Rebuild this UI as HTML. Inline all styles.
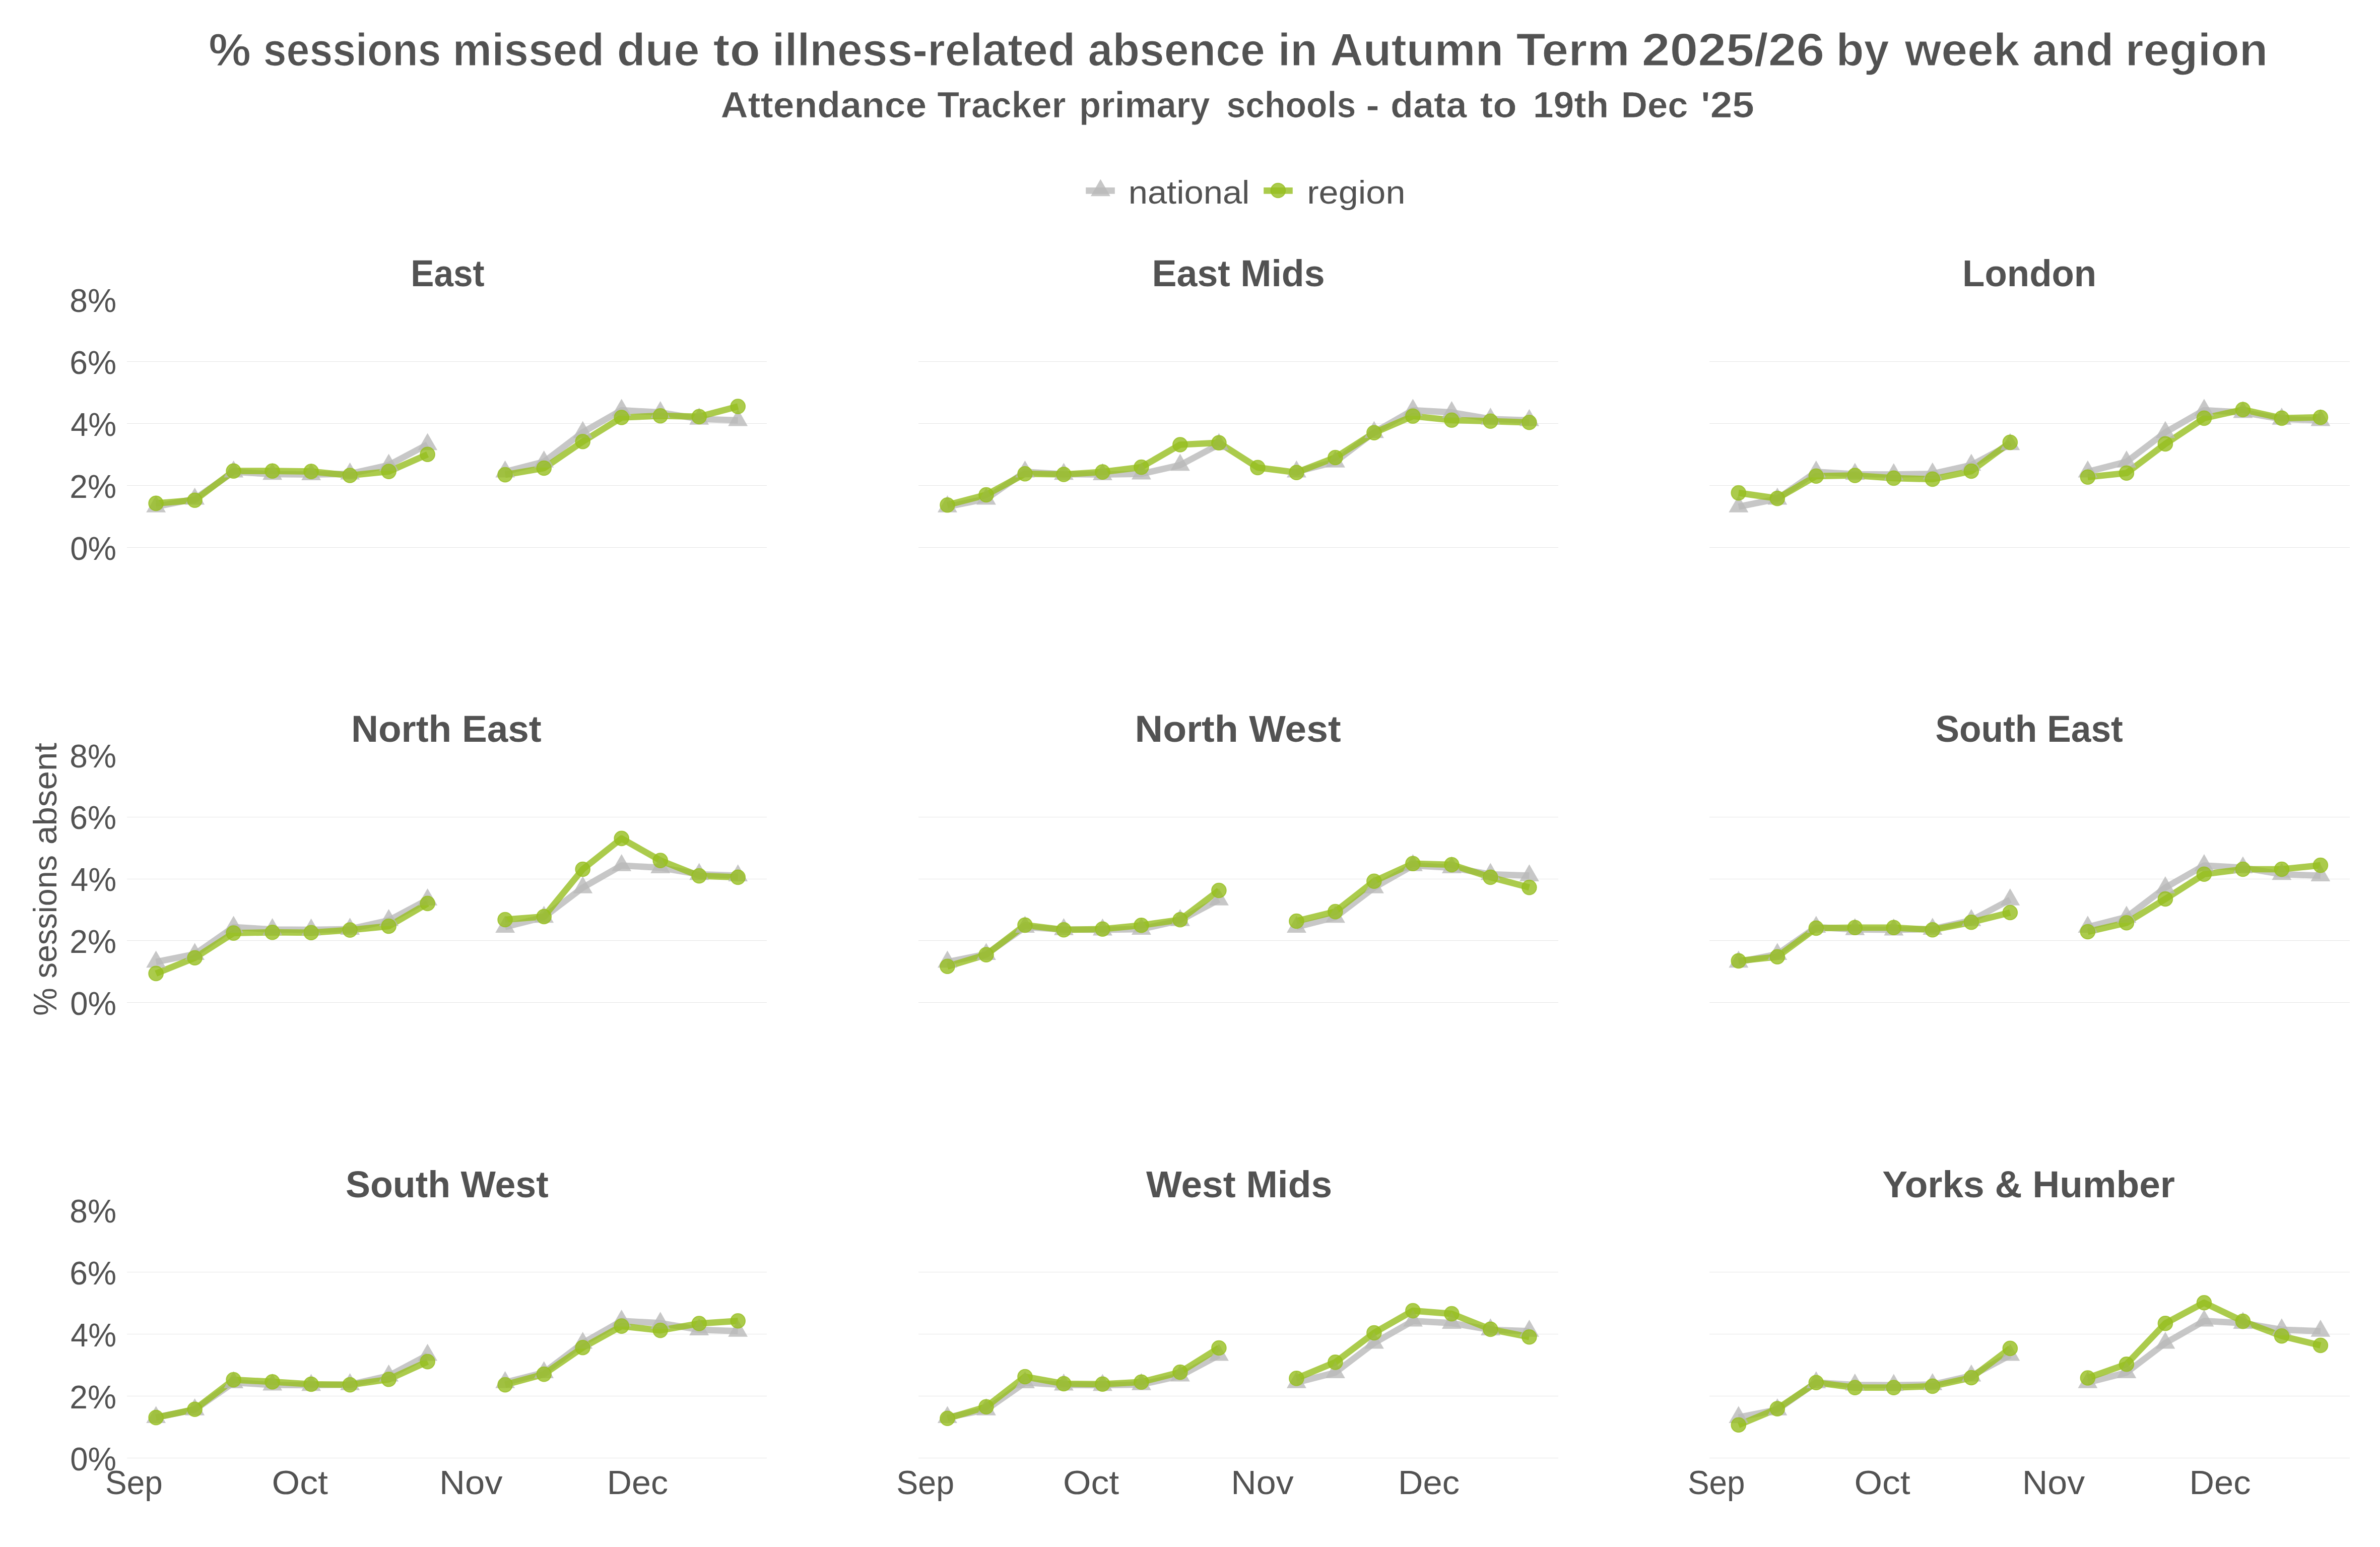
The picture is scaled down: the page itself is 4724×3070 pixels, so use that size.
<!DOCTYPE html>
<html lang="en"><head><meta charset="utf-8"><title>% sessions missed due to illness-related absence</title>
<style>html,body{margin:0;padding:0;background:#fff}svg{display:block}text{font-family:"Liberation Sans",sans-serif;fill:#525252}.b{font-weight:bold}.e{stroke:#fff;stroke-width:1.2px;stroke-linejoin:miter}.e2{stroke:#fff;stroke-width:.7px;stroke-linejoin:miter}</style>
</head><body>
<svg width="4724" height="3070" viewBox="0 0 4724 3070">
<rect width="4724" height="3070" fill="#fff"/>
<text y="129.8" font-size="90" class="b e">
<tspan x="414.2" textLength="83.8" lengthAdjust="spacingAndGlyphs">%</tspan> <tspan x="522.8" textLength="352.6" lengthAdjust="spacingAndGlyphs">sessions</tspan> <tspan x="898.6" textLength="300.6" lengthAdjust="spacingAndGlyphs">missed</tspan> <tspan x="1224.4" textLength="164.2" lengthAdjust="spacingAndGlyphs">due</tspan> <tspan x="1415.4" textLength="93.6" lengthAdjust="spacingAndGlyphs">to</tspan> <tspan x="1532.8" textLength="601.6" lengthAdjust="spacingAndGlyphs">illness-related</tspan> <tspan x="2159.6" textLength="351.2" lengthAdjust="spacingAndGlyphs">absence</tspan> <tspan x="2536.8" textLength="78.0" lengthAdjust="spacingAndGlyphs">in</tspan> <tspan x="2640.0" textLength="344.2" lengthAdjust="spacingAndGlyphs">Autumn</tspan> <tspan x="3009.4" textLength="225.2" lengthAdjust="spacingAndGlyphs">Term</tspan> <tspan x="3258.8" textLength="362.4" lengthAdjust="spacingAndGlyphs">2025/26</tspan> <tspan x="3644.4" textLength="105.2" lengthAdjust="spacingAndGlyphs">by</tspan> <tspan x="3780.8" textLength="227.6" lengthAdjust="spacingAndGlyphs">week</tspan> <tspan x="4034.2" textLength="161.2" lengthAdjust="spacingAndGlyphs">and</tspan> <tspan x="4218.6" textLength="282.8" lengthAdjust="spacingAndGlyphs">region</tspan>
</text>
<text y="232.6" font-size="72" class="b e2">
<tspan x="1430.4" textLength="408.9" lengthAdjust="spacingAndGlyphs">Attendance</tspan> <tspan x="1860.2" textLength="255.3" lengthAdjust="spacingAndGlyphs">Tracker</tspan> <tspan x="2142.1" textLength="259.6" lengthAdjust="spacingAndGlyphs">primary</tspan> <tspan x="2434.4" textLength="256.8" lengthAdjust="spacingAndGlyphs">schools</tspan> <tspan x="2711.3" textLength="26.6" lengthAdjust="spacingAndGlyphs">-</tspan> <tspan x="2760.0" textLength="151.4" lengthAdjust="spacingAndGlyphs">data</tspan> <tspan x="2937.5" textLength="73.3" lengthAdjust="spacingAndGlyphs">to</tspan> <tspan x="3042.7" textLength="150.6" lengthAdjust="spacingAndGlyphs">19th</tspan> <tspan x="3217.7" textLength="133.0" lengthAdjust="spacingAndGlyphs">Dec</tspan> <tspan x="3376.1" textLength="105.9" lengthAdjust="spacingAndGlyphs">'25</tspan>
</text>
<g opacity="1">
<line x1="2155.2" x2="2212.8" y1="378.4" y2="378.4" stroke="#b9b9b9" stroke-opacity="0.8" stroke-width="12.7"/>
<polygon points="2184.4,355.6 2203.8,389.2 2165.0,389.2" fill="#b9b9b9" fill-opacity="0.8"/>
<line x1="2508.2" x2="2565.8" y1="378.4" y2="378.4" stroke="#96be1f" stroke-opacity="0.8" stroke-width="12.7"/>
<circle cx="2536.9" cy="378.0" r="14.4" fill="#96be1f" fill-opacity="0.8" stroke="#96be1f" stroke-opacity="0.8" stroke-width="1.8"/>
</g>
<text x="2239.7" y="403.5" font-size="64" textLength="240.7" lengthAdjust="spacingAndGlyphs">national</text>
<text x="2594.2" y="403.5" font-size="64" textLength="195.3" lengthAdjust="spacingAndGlyphs">region</text>
<text transform="matrix(0,-1,1,0,111.5,0)" y="0" font-size="64">
<tspan x="-2015.8" textLength="55.4" lengthAdjust="spacingAndGlyphs">%</tspan> <tspan x="-1941.5" textLength="244.5" lengthAdjust="spacingAndGlyphs">sessions</tspan> <tspan x="-1676.0" textLength="202.0" lengthAdjust="spacingAndGlyphs">absent</tspan>
</text>
<g>
<text x="815.2" y="568.2" font-size="74" textLength="146.3" lengthAdjust="spacingAndGlyphs" class="b">East</text>
<line x1="252.0" x2="1522.0" y1="1086.5" y2="1086.5" stroke="#e5e5e5" stroke-width="1"/>
<line x1="252.0" x2="1522.0" y1="963.5" y2="963.5" stroke="#e5e5e5" stroke-width="1"/>
<line x1="252.0" x2="1522.0" y1="840.5" y2="840.5" stroke="#e5e5e5" stroke-width="1"/>
<line x1="252.0" x2="1522.0" y1="717.5" y2="717.5" stroke="#e5e5e5" stroke-width="1"/>
<text x="139.2" y="1110.6" font-size="64" textLength="91.8" lengthAdjust="spacingAndGlyphs">0%</text>
<text x="138.2" y="987.7" font-size="64" textLength="92.8" lengthAdjust="spacingAndGlyphs">2%</text>
<text x="140.2" y="864.8" font-size="64" textLength="90.8" lengthAdjust="spacingAndGlyphs">4%</text>
<text x="138.2" y="741.9" font-size="64" textLength="92.8" lengthAdjust="spacingAndGlyphs">6%</text>
<text x="138.2" y="619.0" font-size="64" textLength="92.8" lengthAdjust="spacingAndGlyphs">8%</text>
<polyline points="309.6,1005.4 386.6,990.1 463.6,936.4 540.6,941.0 617.6,941.6 694.6,940.3 771.6,923.0 848.6,882.0" fill="none" stroke="#b9b9b9" stroke-opacity="0.8" stroke-width="12.7" stroke-linejoin="round" stroke-linecap="butt"/>
<polyline points="1002.6,936.2 1079.7,916.5 1156.7,858.0 1233.7,814.1 1310.7,818.4 1387.7,831.5 1464.7,834.2" fill="none" stroke="#b9b9b9" stroke-opacity="0.8" stroke-width="12.7" stroke-linejoin="round" stroke-linecap="butt"/>
<polyline points="309.6,998.9 386.6,992.7 463.6,934.7 540.6,934.7 617.6,935.6 694.6,943.5 771.6,935.6 848.6,901.7" fill="none" stroke="#96be1f" stroke-opacity="0.8" stroke-width="12.7" stroke-linejoin="round" stroke-linecap="butt"/>
<polyline points="1002.6,942.1 1079.7,929.0 1156.7,876.3 1233.7,828.5 1310.7,825.2 1387.7,826.9 1464.7,806.6" fill="none" stroke="#96be1f" stroke-opacity="0.8" stroke-width="12.7" stroke-linejoin="round" stroke-linecap="butt"/>
<polygon points="309.6,983.0 329.1,1016.7 290.2,1016.7" fill="#b9b9b9" fill-opacity="0.8"/>
<polygon points="386.6,967.7 406.1,1001.4 367.2,1001.4" fill="#b9b9b9" fill-opacity="0.8"/>
<polygon points="463.6,913.9 483.1,947.6 444.2,947.6" fill="#b9b9b9" fill-opacity="0.8"/>
<polygon points="540.6,918.5 560.1,952.2 521.2,952.2" fill="#b9b9b9" fill-opacity="0.8"/>
<polygon points="617.6,919.2 637.1,952.9 598.2,952.9" fill="#b9b9b9" fill-opacity="0.8"/>
<polygon points="694.6,917.8 714.1,951.5 675.2,951.5" fill="#b9b9b9" fill-opacity="0.8"/>
<polygon points="771.6,900.5 791.1,934.2 752.2,934.2" fill="#b9b9b9" fill-opacity="0.8"/>
<polygon points="848.6,859.5 868.1,893.2 829.2,893.2" fill="#b9b9b9" fill-opacity="0.8"/>
<polygon points="1002.6,913.8 1022.1,947.5 983.2,947.5" fill="#b9b9b9" fill-opacity="0.8"/>
<polygon points="1079.7,894.0 1099.1,927.7 1060.2,927.7" fill="#b9b9b9" fill-opacity="0.8"/>
<polygon points="1156.7,835.6 1176.1,869.2 1137.2,869.2" fill="#b9b9b9" fill-opacity="0.8"/>
<polygon points="1233.7,791.6 1253.1,825.3 1214.2,825.3" fill="#b9b9b9" fill-opacity="0.8"/>
<polygon points="1310.7,795.9 1330.1,829.6 1291.2,829.6" fill="#b9b9b9" fill-opacity="0.8"/>
<polygon points="1387.7,809.0 1407.1,842.7 1368.2,842.7" fill="#b9b9b9" fill-opacity="0.8"/>
<polygon points="1464.7,811.8 1484.1,845.5 1445.2,845.5" fill="#b9b9b9" fill-opacity="0.8"/>
<circle cx="309.6" cy="998.9" r="14.4" fill="#96be1f" fill-opacity="0.8" stroke="#96be1f" stroke-opacity="0.8" stroke-width="1.8"/>
<circle cx="386.6" cy="992.7" r="14.4" fill="#96be1f" fill-opacity="0.8" stroke="#96be1f" stroke-opacity="0.8" stroke-width="1.8"/>
<circle cx="463.6" cy="934.7" r="14.4" fill="#96be1f" fill-opacity="0.8" stroke="#96be1f" stroke-opacity="0.8" stroke-width="1.8"/>
<circle cx="540.6" cy="934.7" r="14.4" fill="#96be1f" fill-opacity="0.8" stroke="#96be1f" stroke-opacity="0.8" stroke-width="1.8"/>
<circle cx="617.6" cy="935.6" r="14.4" fill="#96be1f" fill-opacity="0.8" stroke="#96be1f" stroke-opacity="0.8" stroke-width="1.8"/>
<circle cx="694.6" cy="943.5" r="14.4" fill="#96be1f" fill-opacity="0.8" stroke="#96be1f" stroke-opacity="0.8" stroke-width="1.8"/>
<circle cx="771.6" cy="935.6" r="14.4" fill="#96be1f" fill-opacity="0.8" stroke="#96be1f" stroke-opacity="0.8" stroke-width="1.8"/>
<circle cx="848.6" cy="901.7" r="14.4" fill="#96be1f" fill-opacity="0.8" stroke="#96be1f" stroke-opacity="0.8" stroke-width="1.8"/>
<circle cx="1002.6" cy="942.1" r="14.4" fill="#96be1f" fill-opacity="0.8" stroke="#96be1f" stroke-opacity="0.8" stroke-width="1.8"/>
<circle cx="1079.7" cy="929.0" r="14.4" fill="#96be1f" fill-opacity="0.8" stroke="#96be1f" stroke-opacity="0.8" stroke-width="1.8"/>
<circle cx="1156.7" cy="876.3" r="14.4" fill="#96be1f" fill-opacity="0.8" stroke="#96be1f" stroke-opacity="0.8" stroke-width="1.8"/>
<circle cx="1233.7" cy="828.5" r="14.4" fill="#96be1f" fill-opacity="0.8" stroke="#96be1f" stroke-opacity="0.8" stroke-width="1.8"/>
<circle cx="1310.7" cy="825.2" r="14.4" fill="#96be1f" fill-opacity="0.8" stroke="#96be1f" stroke-opacity="0.8" stroke-width="1.8"/>
<circle cx="1387.7" cy="826.9" r="14.4" fill="#96be1f" fill-opacity="0.8" stroke="#96be1f" stroke-opacity="0.8" stroke-width="1.8"/>
<circle cx="1464.7" cy="806.6" r="14.4" fill="#96be1f" fill-opacity="0.8" stroke="#96be1f" stroke-opacity="0.8" stroke-width="1.8"/>
</g>
<g>
<text x="2286.6" y="568.2" font-size="74" textLength="343.0" lengthAdjust="spacingAndGlyphs" class="b">East Mids</text>
<line x1="1823.0" x2="3093.0" y1="1086.5" y2="1086.5" stroke="#e5e5e5" stroke-width="1"/>
<line x1="1823.0" x2="3093.0" y1="963.5" y2="963.5" stroke="#e5e5e5" stroke-width="1"/>
<line x1="1823.0" x2="3093.0" y1="840.5" y2="840.5" stroke="#e5e5e5" stroke-width="1"/>
<line x1="1823.0" x2="3093.0" y1="717.5" y2="717.5" stroke="#e5e5e5" stroke-width="1"/>
<polyline points="1880.5,1005.4 1957.5,990.1 2034.5,936.4 2111.4,941.0 2188.4,941.6 2265.4,940.3 2342.4,923.0 2419.4,882.0" fill="none" stroke="#b9b9b9" stroke-opacity="0.8" stroke-width="12.7" stroke-linejoin="round" stroke-linecap="butt"/>
<polyline points="2573.4,936.2 2650.4,916.5 2727.4,858.0 2804.4,814.1 2881.4,818.4 2958.4,831.5 3035.4,834.2" fill="none" stroke="#b9b9b9" stroke-opacity="0.8" stroke-width="12.7" stroke-linejoin="round" stroke-linecap="butt"/>
<polyline points="1880.5,1002.2 1957.5,982.0 2034.5,940.2 2111.4,941.5 2188.4,936.6 2265.4,927.1 2342.4,882.5 2419.4,878.7 2496.4,927.9 2573.4,937.7 2650.4,908.0 2727.4,858.8 2804.4,825.8 2881.4,833.7 2958.4,835.8 3035.4,838.3" fill="none" stroke="#96be1f" stroke-opacity="0.8" stroke-width="12.7" stroke-linejoin="round" stroke-linecap="butt"/>
<polygon points="1880.5,983.0 1899.9,1016.7 1861.0,1016.7" fill="#b9b9b9" fill-opacity="0.8"/>
<polygon points="1957.5,967.7 1976.9,1001.4 1938.0,1001.4" fill="#b9b9b9" fill-opacity="0.8"/>
<polygon points="2034.5,913.9 2053.9,947.6 2015.0,947.6" fill="#b9b9b9" fill-opacity="0.8"/>
<polygon points="2111.4,918.5 2130.9,952.2 2092.0,952.2" fill="#b9b9b9" fill-opacity="0.8"/>
<polygon points="2188.4,919.2 2207.9,952.9 2169.0,952.9" fill="#b9b9b9" fill-opacity="0.8"/>
<polygon points="2265.4,917.8 2284.9,951.5 2246.0,951.5" fill="#b9b9b9" fill-opacity="0.8"/>
<polygon points="2342.4,900.5 2361.9,934.2 2323.0,934.2" fill="#b9b9b9" fill-opacity="0.8"/>
<polygon points="2419.4,859.5 2438.9,893.2 2400.0,893.2" fill="#b9b9b9" fill-opacity="0.8"/>
<polygon points="2573.4,913.8 2592.9,947.5 2554.0,947.5" fill="#b9b9b9" fill-opacity="0.8"/>
<polygon points="2650.4,894.0 2669.9,927.7 2631.0,927.7" fill="#b9b9b9" fill-opacity="0.8"/>
<polygon points="2727.4,835.6 2746.9,869.2 2708.0,869.2" fill="#b9b9b9" fill-opacity="0.8"/>
<polygon points="2804.4,791.6 2823.9,825.3 2785.0,825.3" fill="#b9b9b9" fill-opacity="0.8"/>
<polygon points="2881.4,795.9 2900.9,829.6 2862.0,829.6" fill="#b9b9b9" fill-opacity="0.8"/>
<polygon points="2958.4,809.0 2977.9,842.7 2939.0,842.7" fill="#b9b9b9" fill-opacity="0.8"/>
<polygon points="3035.4,811.8 3054.9,845.5 3016.0,845.5" fill="#b9b9b9" fill-opacity="0.8"/>
<circle cx="1880.5" cy="1002.2" r="14.4" fill="#96be1f" fill-opacity="0.8" stroke="#96be1f" stroke-opacity="0.8" stroke-width="1.8"/>
<circle cx="1957.5" cy="982.0" r="14.4" fill="#96be1f" fill-opacity="0.8" stroke="#96be1f" stroke-opacity="0.8" stroke-width="1.8"/>
<circle cx="2034.5" cy="940.2" r="14.4" fill="#96be1f" fill-opacity="0.8" stroke="#96be1f" stroke-opacity="0.8" stroke-width="1.8"/>
<circle cx="2111.4" cy="941.5" r="14.4" fill="#96be1f" fill-opacity="0.8" stroke="#96be1f" stroke-opacity="0.8" stroke-width="1.8"/>
<circle cx="2188.4" cy="936.6" r="14.4" fill="#96be1f" fill-opacity="0.8" stroke="#96be1f" stroke-opacity="0.8" stroke-width="1.8"/>
<circle cx="2265.4" cy="927.1" r="14.4" fill="#96be1f" fill-opacity="0.8" stroke="#96be1f" stroke-opacity="0.8" stroke-width="1.8"/>
<circle cx="2342.4" cy="882.5" r="14.4" fill="#96be1f" fill-opacity="0.8" stroke="#96be1f" stroke-opacity="0.8" stroke-width="1.8"/>
<circle cx="2419.4" cy="878.7" r="14.4" fill="#96be1f" fill-opacity="0.8" stroke="#96be1f" stroke-opacity="0.8" stroke-width="1.8"/>
<circle cx="2496.4" cy="927.9" r="14.4" fill="#96be1f" fill-opacity="0.8" stroke="#96be1f" stroke-opacity="0.8" stroke-width="1.8"/>
<circle cx="2573.4" cy="937.7" r="14.4" fill="#96be1f" fill-opacity="0.8" stroke="#96be1f" stroke-opacity="0.8" stroke-width="1.8"/>
<circle cx="2650.4" cy="908.0" r="14.4" fill="#96be1f" fill-opacity="0.8" stroke="#96be1f" stroke-opacity="0.8" stroke-width="1.8"/>
<circle cx="2727.4" cy="858.8" r="14.4" fill="#96be1f" fill-opacity="0.8" stroke="#96be1f" stroke-opacity="0.8" stroke-width="1.8"/>
<circle cx="2804.4" cy="825.8" r="14.4" fill="#96be1f" fill-opacity="0.8" stroke="#96be1f" stroke-opacity="0.8" stroke-width="1.8"/>
<circle cx="2881.4" cy="833.7" r="14.4" fill="#96be1f" fill-opacity="0.8" stroke="#96be1f" stroke-opacity="0.8" stroke-width="1.8"/>
<circle cx="2958.4" cy="835.8" r="14.4" fill="#96be1f" fill-opacity="0.8" stroke="#96be1f" stroke-opacity="0.8" stroke-width="1.8"/>
<circle cx="3035.4" cy="838.3" r="14.4" fill="#96be1f" fill-opacity="0.8" stroke="#96be1f" stroke-opacity="0.8" stroke-width="1.8"/>
</g>
<g>
<text x="3895.1" y="568.2" font-size="74" textLength="266.1" lengthAdjust="spacingAndGlyphs" class="b">London</text>
<line x1="3393.0" x2="4664.0" y1="1086.5" y2="1086.5" stroke="#e5e5e5" stroke-width="1"/>
<line x1="3393.0" x2="4664.0" y1="963.5" y2="963.5" stroke="#e5e5e5" stroke-width="1"/>
<line x1="3393.0" x2="4664.0" y1="840.5" y2="840.5" stroke="#e5e5e5" stroke-width="1"/>
<line x1="3393.0" x2="4664.0" y1="717.5" y2="717.5" stroke="#e5e5e5" stroke-width="1"/>
<polyline points="3450.8,1005.4 3527.8,990.1 3604.8,936.4 3681.8,941.0 3758.8,941.6 3835.8,940.3 3912.8,923.0 3989.8,882.0" fill="none" stroke="#b9b9b9" stroke-opacity="0.8" stroke-width="12.7" stroke-linejoin="round" stroke-linecap="butt"/>
<polyline points="4143.9,936.2 4220.9,916.5 4297.9,858.0 4374.9,814.1 4451.9,818.4 4528.9,831.5 4605.9,834.2" fill="none" stroke="#b9b9b9" stroke-opacity="0.8" stroke-width="12.7" stroke-linejoin="round" stroke-linecap="butt"/>
<polyline points="3450.8,978.1 3527.8,989.1 3604.8,944.8 3681.8,943.5 3758.8,948.9 3835.8,950.9 3912.8,935.0 3989.8,877.9" fill="none" stroke="#96be1f" stroke-opacity="0.8" stroke-width="12.7" stroke-linejoin="round" stroke-linecap="butt"/>
<polyline points="4143.9,946.7 4220.9,938.8 4297.9,880.9 4374.9,829.9 4451.9,812.9 4528.9,829.9 4605.9,828.2" fill="none" stroke="#96be1f" stroke-opacity="0.8" stroke-width="12.7" stroke-linejoin="round" stroke-linecap="butt"/>
<polygon points="3450.8,983.0 3470.3,1016.7 3431.4,1016.7" fill="#b9b9b9" fill-opacity="0.8"/>
<polygon points="3527.8,967.7 3547.3,1001.4 3508.4,1001.4" fill="#b9b9b9" fill-opacity="0.8"/>
<polygon points="3604.8,913.9 3624.3,947.6 3585.4,947.6" fill="#b9b9b9" fill-opacity="0.8"/>
<polygon points="3681.8,918.5 3701.3,952.2 3662.4,952.2" fill="#b9b9b9" fill-opacity="0.8"/>
<polygon points="3758.8,919.2 3778.3,952.9 3739.4,952.9" fill="#b9b9b9" fill-opacity="0.8"/>
<polygon points="3835.8,917.8 3855.3,951.5 3816.4,951.5" fill="#b9b9b9" fill-opacity="0.8"/>
<polygon points="3912.8,900.5 3932.3,934.2 3893.4,934.2" fill="#b9b9b9" fill-opacity="0.8"/>
<polygon points="3989.8,859.5 4009.3,893.2 3970.4,893.2" fill="#b9b9b9" fill-opacity="0.8"/>
<polygon points="4143.9,913.8 4163.3,947.5 4124.4,947.5" fill="#b9b9b9" fill-opacity="0.8"/>
<polygon points="4220.9,894.0 4240.3,927.7 4201.4,927.7" fill="#b9b9b9" fill-opacity="0.8"/>
<polygon points="4297.9,835.6 4317.3,869.2 4278.4,869.2" fill="#b9b9b9" fill-opacity="0.8"/>
<polygon points="4374.9,791.6 4394.3,825.3 4355.4,825.3" fill="#b9b9b9" fill-opacity="0.8"/>
<polygon points="4451.9,795.9 4471.3,829.6 4432.4,829.6" fill="#b9b9b9" fill-opacity="0.8"/>
<polygon points="4528.9,809.0 4548.3,842.7 4509.4,842.7" fill="#b9b9b9" fill-opacity="0.8"/>
<polygon points="4605.9,811.8 4625.3,845.5 4586.4,845.5" fill="#b9b9b9" fill-opacity="0.8"/>
<circle cx="3450.8" cy="978.1" r="14.4" fill="#96be1f" fill-opacity="0.8" stroke="#96be1f" stroke-opacity="0.8" stroke-width="1.8"/>
<circle cx="3527.8" cy="989.1" r="14.4" fill="#96be1f" fill-opacity="0.8" stroke="#96be1f" stroke-opacity="0.8" stroke-width="1.8"/>
<circle cx="3604.8" cy="944.8" r="14.4" fill="#96be1f" fill-opacity="0.8" stroke="#96be1f" stroke-opacity="0.8" stroke-width="1.8"/>
<circle cx="3681.8" cy="943.5" r="14.4" fill="#96be1f" fill-opacity="0.8" stroke="#96be1f" stroke-opacity="0.8" stroke-width="1.8"/>
<circle cx="3758.8" cy="948.9" r="14.4" fill="#96be1f" fill-opacity="0.8" stroke="#96be1f" stroke-opacity="0.8" stroke-width="1.8"/>
<circle cx="3835.8" cy="950.9" r="14.4" fill="#96be1f" fill-opacity="0.8" stroke="#96be1f" stroke-opacity="0.8" stroke-width="1.8"/>
<circle cx="3912.8" cy="935.0" r="14.4" fill="#96be1f" fill-opacity="0.8" stroke="#96be1f" stroke-opacity="0.8" stroke-width="1.8"/>
<circle cx="3989.8" cy="877.9" r="14.4" fill="#96be1f" fill-opacity="0.8" stroke="#96be1f" stroke-opacity="0.8" stroke-width="1.8"/>
<circle cx="4143.9" cy="946.7" r="14.4" fill="#96be1f" fill-opacity="0.8" stroke="#96be1f" stroke-opacity="0.8" stroke-width="1.8"/>
<circle cx="4220.9" cy="938.8" r="14.4" fill="#96be1f" fill-opacity="0.8" stroke="#96be1f" stroke-opacity="0.8" stroke-width="1.8"/>
<circle cx="4297.9" cy="880.9" r="14.4" fill="#96be1f" fill-opacity="0.8" stroke="#96be1f" stroke-opacity="0.8" stroke-width="1.8"/>
<circle cx="4374.9" cy="829.9" r="14.4" fill="#96be1f" fill-opacity="0.8" stroke="#96be1f" stroke-opacity="0.8" stroke-width="1.8"/>
<circle cx="4451.9" cy="812.9" r="14.4" fill="#96be1f" fill-opacity="0.8" stroke="#96be1f" stroke-opacity="0.8" stroke-width="1.8"/>
<circle cx="4528.9" cy="829.9" r="14.4" fill="#96be1f" fill-opacity="0.8" stroke="#96be1f" stroke-opacity="0.8" stroke-width="1.8"/>
<circle cx="4605.9" cy="828.2" r="14.4" fill="#96be1f" fill-opacity="0.8" stroke="#96be1f" stroke-opacity="0.8" stroke-width="1.8"/>
</g>
<g>
<text x="697.0" y="1471.7" font-size="74" textLength="377.7" lengthAdjust="spacingAndGlyphs" class="b">North East</text>
<line x1="252.0" x2="1522.0" y1="1989.5" y2="1989.5" stroke="#e5e5e5" stroke-width="1"/>
<line x1="252.0" x2="1522.0" y1="1866.5" y2="1866.5" stroke="#e5e5e5" stroke-width="1"/>
<line x1="252.0" x2="1522.0" y1="1744.5" y2="1744.5" stroke="#e5e5e5" stroke-width="1"/>
<line x1="252.0" x2="1522.0" y1="1621.5" y2="1621.5" stroke="#e5e5e5" stroke-width="1"/>
<text x="139.2" y="2014.1" font-size="64" textLength="91.8" lengthAdjust="spacingAndGlyphs">0%</text>
<text x="138.2" y="1891.2" font-size="64" textLength="92.8" lengthAdjust="spacingAndGlyphs">2%</text>
<text x="140.2" y="1768.3" font-size="64" textLength="90.8" lengthAdjust="spacingAndGlyphs">4%</text>
<text x="138.2" y="1645.4" font-size="64" textLength="92.8" lengthAdjust="spacingAndGlyphs">6%</text>
<text x="138.2" y="1522.5" font-size="64" textLength="92.8" lengthAdjust="spacingAndGlyphs">8%</text>
<polyline points="309.6,1908.9 386.6,1893.6 463.6,1839.9 540.6,1844.5 617.6,1845.1 694.6,1843.8 771.6,1826.5 848.6,1785.5" fill="none" stroke="#b9b9b9" stroke-opacity="0.8" stroke-width="12.7" stroke-linejoin="round" stroke-linecap="butt"/>
<polyline points="1002.6,1839.7 1079.7,1820.0 1156.7,1761.5 1233.7,1717.6 1310.7,1721.9 1387.7,1735.0 1464.7,1737.7" fill="none" stroke="#b9b9b9" stroke-opacity="0.8" stroke-width="12.7" stroke-linejoin="round" stroke-linecap="butt"/>
<polyline points="309.6,1931.9 386.6,1900.8 463.6,1851.6 540.6,1850.2 617.6,1850.8 694.6,1845.6 771.6,1838.0 848.6,1792.9" fill="none" stroke="#96be1f" stroke-opacity="0.8" stroke-width="12.7" stroke-linejoin="round" stroke-linecap="butt"/>
<polyline points="1002.6,1825.0 1079.7,1819.0 1156.7,1725.0 1233.7,1663.9 1310.7,1707.6 1387.7,1738.1 1464.7,1740.9" fill="none" stroke="#96be1f" stroke-opacity="0.8" stroke-width="12.7" stroke-linejoin="round" stroke-linecap="butt"/>
<polygon points="309.6,1886.5 329.1,1920.2 290.2,1920.2" fill="#b9b9b9" fill-opacity="0.8"/>
<polygon points="386.6,1871.2 406.1,1904.9 367.2,1904.9" fill="#b9b9b9" fill-opacity="0.8"/>
<polygon points="463.6,1817.4 483.1,1851.1 444.2,1851.1" fill="#b9b9b9" fill-opacity="0.8"/>
<polygon points="540.6,1822.0 560.1,1855.7 521.2,1855.7" fill="#b9b9b9" fill-opacity="0.8"/>
<polygon points="617.6,1822.7 637.1,1856.4 598.2,1856.4" fill="#b9b9b9" fill-opacity="0.8"/>
<polygon points="694.6,1821.3 714.1,1855.0 675.2,1855.0" fill="#b9b9b9" fill-opacity="0.8"/>
<polygon points="771.6,1804.0 791.1,1837.7 752.2,1837.7" fill="#b9b9b9" fill-opacity="0.8"/>
<polygon points="848.6,1763.0 868.1,1796.7 829.2,1796.7" fill="#b9b9b9" fill-opacity="0.8"/>
<polygon points="1002.6,1817.3 1022.1,1851.0 983.2,1851.0" fill="#b9b9b9" fill-opacity="0.8"/>
<polygon points="1079.7,1797.5 1099.1,1831.2 1060.2,1831.2" fill="#b9b9b9" fill-opacity="0.8"/>
<polygon points="1156.7,1739.1 1176.1,1772.7 1137.2,1772.7" fill="#b9b9b9" fill-opacity="0.8"/>
<polygon points="1233.7,1695.1 1253.1,1728.8 1214.2,1728.8" fill="#b9b9b9" fill-opacity="0.8"/>
<polygon points="1310.7,1699.4 1330.1,1733.1 1291.2,1733.1" fill="#b9b9b9" fill-opacity="0.8"/>
<polygon points="1387.7,1712.5 1407.1,1746.2 1368.2,1746.2" fill="#b9b9b9" fill-opacity="0.8"/>
<polygon points="1464.7,1715.3 1484.1,1749.0 1445.2,1749.0" fill="#b9b9b9" fill-opacity="0.8"/>
<circle cx="309.6" cy="1931.9" r="14.4" fill="#96be1f" fill-opacity="0.8" stroke="#96be1f" stroke-opacity="0.8" stroke-width="1.8"/>
<circle cx="386.6" cy="1900.8" r="14.4" fill="#96be1f" fill-opacity="0.8" stroke="#96be1f" stroke-opacity="0.8" stroke-width="1.8"/>
<circle cx="463.6" cy="1851.6" r="14.4" fill="#96be1f" fill-opacity="0.8" stroke="#96be1f" stroke-opacity="0.8" stroke-width="1.8"/>
<circle cx="540.6" cy="1850.2" r="14.4" fill="#96be1f" fill-opacity="0.8" stroke="#96be1f" stroke-opacity="0.8" stroke-width="1.8"/>
<circle cx="617.6" cy="1850.8" r="14.4" fill="#96be1f" fill-opacity="0.8" stroke="#96be1f" stroke-opacity="0.8" stroke-width="1.8"/>
<circle cx="694.6" cy="1845.6" r="14.4" fill="#96be1f" fill-opacity="0.8" stroke="#96be1f" stroke-opacity="0.8" stroke-width="1.8"/>
<circle cx="771.6" cy="1838.0" r="14.4" fill="#96be1f" fill-opacity="0.8" stroke="#96be1f" stroke-opacity="0.8" stroke-width="1.8"/>
<circle cx="848.6" cy="1792.9" r="14.4" fill="#96be1f" fill-opacity="0.8" stroke="#96be1f" stroke-opacity="0.8" stroke-width="1.8"/>
<circle cx="1002.6" cy="1825.0" r="14.4" fill="#96be1f" fill-opacity="0.8" stroke="#96be1f" stroke-opacity="0.8" stroke-width="1.8"/>
<circle cx="1079.7" cy="1819.0" r="14.4" fill="#96be1f" fill-opacity="0.8" stroke="#96be1f" stroke-opacity="0.8" stroke-width="1.8"/>
<circle cx="1156.7" cy="1725.0" r="14.4" fill="#96be1f" fill-opacity="0.8" stroke="#96be1f" stroke-opacity="0.8" stroke-width="1.8"/>
<circle cx="1233.7" cy="1663.9" r="14.4" fill="#96be1f" fill-opacity="0.8" stroke="#96be1f" stroke-opacity="0.8" stroke-width="1.8"/>
<circle cx="1310.7" cy="1707.6" r="14.4" fill="#96be1f" fill-opacity="0.8" stroke="#96be1f" stroke-opacity="0.8" stroke-width="1.8"/>
<circle cx="1387.7" cy="1738.1" r="14.4" fill="#96be1f" fill-opacity="0.8" stroke="#96be1f" stroke-opacity="0.8" stroke-width="1.8"/>
<circle cx="1464.7" cy="1740.9" r="14.4" fill="#96be1f" fill-opacity="0.8" stroke="#96be1f" stroke-opacity="0.8" stroke-width="1.8"/>
</g>
<g>
<text x="2252.6" y="1471.7" font-size="74" textLength="409.0" lengthAdjust="spacingAndGlyphs" class="b">North West</text>
<line x1="1823.0" x2="3093.0" y1="1989.5" y2="1989.5" stroke="#e5e5e5" stroke-width="1"/>
<line x1="1823.0" x2="3093.0" y1="1866.5" y2="1866.5" stroke="#e5e5e5" stroke-width="1"/>
<line x1="1823.0" x2="3093.0" y1="1744.5" y2="1744.5" stroke="#e5e5e5" stroke-width="1"/>
<line x1="1823.0" x2="3093.0" y1="1621.5" y2="1621.5" stroke="#e5e5e5" stroke-width="1"/>
<polyline points="1880.5,1908.9 1957.5,1893.6 2034.5,1839.9 2111.4,1844.5 2188.4,1845.1 2265.4,1843.8 2342.4,1826.5 2419.4,1785.5" fill="none" stroke="#b9b9b9" stroke-opacity="0.8" stroke-width="12.7" stroke-linejoin="round" stroke-linecap="butt"/>
<polyline points="2573.4,1839.7 2650.4,1820.0 2727.4,1761.5 2804.4,1717.6 2881.4,1721.9 2958.4,1735.0 3035.4,1737.7" fill="none" stroke="#b9b9b9" stroke-opacity="0.8" stroke-width="12.7" stroke-linejoin="round" stroke-linecap="butt"/>
<polyline points="1880.5,1917.8 1957.5,1894.6 2034.5,1835.9 2111.4,1845.2 2188.4,1843.8 2265.4,1836.2 2342.4,1825.2 2419.4,1767.1" fill="none" stroke="#96be1f" stroke-opacity="0.8" stroke-width="12.7" stroke-linejoin="round" stroke-linecap="butt"/>
<polyline points="2573.4,1828.0 2650.4,1809.1 2727.4,1748.8 2804.4,1713.8 2881.4,1716.0 2958.4,1740.9 3035.4,1761.1" fill="none" stroke="#96be1f" stroke-opacity="0.8" stroke-width="12.7" stroke-linejoin="round" stroke-linecap="butt"/>
<polygon points="1880.5,1886.5 1899.9,1920.2 1861.0,1920.2" fill="#b9b9b9" fill-opacity="0.8"/>
<polygon points="1957.5,1871.2 1976.9,1904.9 1938.0,1904.9" fill="#b9b9b9" fill-opacity="0.8"/>
<polygon points="2034.5,1817.4 2053.9,1851.1 2015.0,1851.1" fill="#b9b9b9" fill-opacity="0.8"/>
<polygon points="2111.4,1822.0 2130.9,1855.7 2092.0,1855.7" fill="#b9b9b9" fill-opacity="0.8"/>
<polygon points="2188.4,1822.7 2207.9,1856.4 2169.0,1856.4" fill="#b9b9b9" fill-opacity="0.8"/>
<polygon points="2265.4,1821.3 2284.9,1855.0 2246.0,1855.0" fill="#b9b9b9" fill-opacity="0.8"/>
<polygon points="2342.4,1804.0 2361.9,1837.7 2323.0,1837.7" fill="#b9b9b9" fill-opacity="0.8"/>
<polygon points="2419.4,1763.0 2438.9,1796.7 2400.0,1796.7" fill="#b9b9b9" fill-opacity="0.8"/>
<polygon points="2573.4,1817.3 2592.9,1851.0 2554.0,1851.0" fill="#b9b9b9" fill-opacity="0.8"/>
<polygon points="2650.4,1797.5 2669.9,1831.2 2631.0,1831.2" fill="#b9b9b9" fill-opacity="0.8"/>
<polygon points="2727.4,1739.1 2746.9,1772.7 2708.0,1772.7" fill="#b9b9b9" fill-opacity="0.8"/>
<polygon points="2804.4,1695.1 2823.9,1728.8 2785.0,1728.8" fill="#b9b9b9" fill-opacity="0.8"/>
<polygon points="2881.4,1699.4 2900.9,1733.1 2862.0,1733.1" fill="#b9b9b9" fill-opacity="0.8"/>
<polygon points="2958.4,1712.5 2977.9,1746.2 2939.0,1746.2" fill="#b9b9b9" fill-opacity="0.8"/>
<polygon points="3035.4,1715.3 3054.9,1749.0 3016.0,1749.0" fill="#b9b9b9" fill-opacity="0.8"/>
<circle cx="1880.5" cy="1917.8" r="14.4" fill="#96be1f" fill-opacity="0.8" stroke="#96be1f" stroke-opacity="0.8" stroke-width="1.8"/>
<circle cx="1957.5" cy="1894.6" r="14.4" fill="#96be1f" fill-opacity="0.8" stroke="#96be1f" stroke-opacity="0.8" stroke-width="1.8"/>
<circle cx="2034.5" cy="1835.9" r="14.4" fill="#96be1f" fill-opacity="0.8" stroke="#96be1f" stroke-opacity="0.8" stroke-width="1.8"/>
<circle cx="2111.4" cy="1845.2" r="14.4" fill="#96be1f" fill-opacity="0.8" stroke="#96be1f" stroke-opacity="0.8" stroke-width="1.8"/>
<circle cx="2188.4" cy="1843.8" r="14.4" fill="#96be1f" fill-opacity="0.8" stroke="#96be1f" stroke-opacity="0.8" stroke-width="1.8"/>
<circle cx="2265.4" cy="1836.2" r="14.4" fill="#96be1f" fill-opacity="0.8" stroke="#96be1f" stroke-opacity="0.8" stroke-width="1.8"/>
<circle cx="2342.4" cy="1825.2" r="14.4" fill="#96be1f" fill-opacity="0.8" stroke="#96be1f" stroke-opacity="0.8" stroke-width="1.8"/>
<circle cx="2419.4" cy="1767.1" r="14.4" fill="#96be1f" fill-opacity="0.8" stroke="#96be1f" stroke-opacity="0.8" stroke-width="1.8"/>
<circle cx="2573.4" cy="1828.0" r="14.4" fill="#96be1f" fill-opacity="0.8" stroke="#96be1f" stroke-opacity="0.8" stroke-width="1.8"/>
<circle cx="2650.4" cy="1809.1" r="14.4" fill="#96be1f" fill-opacity="0.8" stroke="#96be1f" stroke-opacity="0.8" stroke-width="1.8"/>
<circle cx="2727.4" cy="1748.8" r="14.4" fill="#96be1f" fill-opacity="0.8" stroke="#96be1f" stroke-opacity="0.8" stroke-width="1.8"/>
<circle cx="2804.4" cy="1713.8" r="14.4" fill="#96be1f" fill-opacity="0.8" stroke="#96be1f" stroke-opacity="0.8" stroke-width="1.8"/>
<circle cx="2881.4" cy="1716.0" r="14.4" fill="#96be1f" fill-opacity="0.8" stroke="#96be1f" stroke-opacity="0.8" stroke-width="1.8"/>
<circle cx="2958.4" cy="1740.9" r="14.4" fill="#96be1f" fill-opacity="0.8" stroke="#96be1f" stroke-opacity="0.8" stroke-width="1.8"/>
<circle cx="3035.4" cy="1761.1" r="14.4" fill="#96be1f" fill-opacity="0.8" stroke="#96be1f" stroke-opacity="0.8" stroke-width="1.8"/>
</g>
<g>
<text x="3841.5" y="1471.7" font-size="74" textLength="372.3" lengthAdjust="spacingAndGlyphs" class="b">South East</text>
<line x1="3393.0" x2="4664.0" y1="1989.5" y2="1989.5" stroke="#e5e5e5" stroke-width="1"/>
<line x1="3393.0" x2="4664.0" y1="1866.5" y2="1866.5" stroke="#e5e5e5" stroke-width="1"/>
<line x1="3393.0" x2="4664.0" y1="1744.5" y2="1744.5" stroke="#e5e5e5" stroke-width="1"/>
<line x1="3393.0" x2="4664.0" y1="1621.5" y2="1621.5" stroke="#e5e5e5" stroke-width="1"/>
<polyline points="3450.8,1908.9 3527.8,1893.6 3604.8,1839.9 3681.8,1844.5 3758.8,1845.1 3835.8,1843.8 3912.8,1826.5 3989.8,1785.5" fill="none" stroke="#b9b9b9" stroke-opacity="0.8" stroke-width="12.7" stroke-linejoin="round" stroke-linecap="butt"/>
<polyline points="4143.9,1839.7 4220.9,1820.0 4297.9,1761.5 4374.9,1717.6 4451.9,1721.9 4528.9,1735.0 4605.9,1737.7" fill="none" stroke="#b9b9b9" stroke-opacity="0.8" stroke-width="12.7" stroke-linejoin="round" stroke-linecap="butt"/>
<polyline points="3450.8,1906.9 3527.8,1898.7 3604.8,1841.9 3681.8,1840.8 3758.8,1840.8 3835.8,1845.2 3912.8,1830.2 3989.8,1811.0" fill="none" stroke="#96be1f" stroke-opacity="0.8" stroke-width="12.7" stroke-linejoin="round" stroke-linecap="butt"/>
<polyline points="4143.9,1849.0 4220.9,1831.3 4297.9,1784.0 4374.9,1734.8 4451.9,1725.0 4528.9,1725.0 4605.9,1717.1" fill="none" stroke="#96be1f" stroke-opacity="0.8" stroke-width="12.7" stroke-linejoin="round" stroke-linecap="butt"/>
<polygon points="3450.8,1886.5 3470.3,1920.2 3431.4,1920.2" fill="#b9b9b9" fill-opacity="0.8"/>
<polygon points="3527.8,1871.2 3547.3,1904.9 3508.4,1904.9" fill="#b9b9b9" fill-opacity="0.8"/>
<polygon points="3604.8,1817.4 3624.3,1851.1 3585.4,1851.1" fill="#b9b9b9" fill-opacity="0.8"/>
<polygon points="3681.8,1822.0 3701.3,1855.7 3662.4,1855.7" fill="#b9b9b9" fill-opacity="0.8"/>
<polygon points="3758.8,1822.7 3778.3,1856.4 3739.4,1856.4" fill="#b9b9b9" fill-opacity="0.8"/>
<polygon points="3835.8,1821.3 3855.3,1855.0 3816.4,1855.0" fill="#b9b9b9" fill-opacity="0.8"/>
<polygon points="3912.8,1804.0 3932.3,1837.7 3893.4,1837.7" fill="#b9b9b9" fill-opacity="0.8"/>
<polygon points="3989.8,1763.0 4009.3,1796.7 3970.4,1796.7" fill="#b9b9b9" fill-opacity="0.8"/>
<polygon points="4143.9,1817.3 4163.3,1851.0 4124.4,1851.0" fill="#b9b9b9" fill-opacity="0.8"/>
<polygon points="4220.9,1797.5 4240.3,1831.2 4201.4,1831.2" fill="#b9b9b9" fill-opacity="0.8"/>
<polygon points="4297.9,1739.1 4317.3,1772.7 4278.4,1772.7" fill="#b9b9b9" fill-opacity="0.8"/>
<polygon points="4374.9,1695.1 4394.3,1728.8 4355.4,1728.8" fill="#b9b9b9" fill-opacity="0.8"/>
<polygon points="4451.9,1699.4 4471.3,1733.1 4432.4,1733.1" fill="#b9b9b9" fill-opacity="0.8"/>
<polygon points="4528.9,1712.5 4548.3,1746.2 4509.4,1746.2" fill="#b9b9b9" fill-opacity="0.8"/>
<polygon points="4605.9,1715.3 4625.3,1749.0 4586.4,1749.0" fill="#b9b9b9" fill-opacity="0.8"/>
<circle cx="3450.8" cy="1906.9" r="14.4" fill="#96be1f" fill-opacity="0.8" stroke="#96be1f" stroke-opacity="0.8" stroke-width="1.8"/>
<circle cx="3527.8" cy="1898.7" r="14.4" fill="#96be1f" fill-opacity="0.8" stroke="#96be1f" stroke-opacity="0.8" stroke-width="1.8"/>
<circle cx="3604.8" cy="1841.9" r="14.4" fill="#96be1f" fill-opacity="0.8" stroke="#96be1f" stroke-opacity="0.8" stroke-width="1.8"/>
<circle cx="3681.8" cy="1840.8" r="14.4" fill="#96be1f" fill-opacity="0.8" stroke="#96be1f" stroke-opacity="0.8" stroke-width="1.8"/>
<circle cx="3758.8" cy="1840.8" r="14.4" fill="#96be1f" fill-opacity="0.8" stroke="#96be1f" stroke-opacity="0.8" stroke-width="1.8"/>
<circle cx="3835.8" cy="1845.2" r="14.4" fill="#96be1f" fill-opacity="0.8" stroke="#96be1f" stroke-opacity="0.8" stroke-width="1.8"/>
<circle cx="3912.8" cy="1830.2" r="14.4" fill="#96be1f" fill-opacity="0.8" stroke="#96be1f" stroke-opacity="0.8" stroke-width="1.8"/>
<circle cx="3989.8" cy="1811.0" r="14.4" fill="#96be1f" fill-opacity="0.8" stroke="#96be1f" stroke-opacity="0.8" stroke-width="1.8"/>
<circle cx="4143.9" cy="1849.0" r="14.4" fill="#96be1f" fill-opacity="0.8" stroke="#96be1f" stroke-opacity="0.8" stroke-width="1.8"/>
<circle cx="4220.9" cy="1831.3" r="14.4" fill="#96be1f" fill-opacity="0.8" stroke="#96be1f" stroke-opacity="0.8" stroke-width="1.8"/>
<circle cx="4297.9" cy="1784.0" r="14.4" fill="#96be1f" fill-opacity="0.8" stroke="#96be1f" stroke-opacity="0.8" stroke-width="1.8"/>
<circle cx="4374.9" cy="1734.8" r="14.4" fill="#96be1f" fill-opacity="0.8" stroke="#96be1f" stroke-opacity="0.8" stroke-width="1.8"/>
<circle cx="4451.9" cy="1725.0" r="14.4" fill="#96be1f" fill-opacity="0.8" stroke="#96be1f" stroke-opacity="0.8" stroke-width="1.8"/>
<circle cx="4528.9" cy="1725.0" r="14.4" fill="#96be1f" fill-opacity="0.8" stroke="#96be1f" stroke-opacity="0.8" stroke-width="1.8"/>
<circle cx="4605.9" cy="1717.1" r="14.4" fill="#96be1f" fill-opacity="0.8" stroke="#96be1f" stroke-opacity="0.8" stroke-width="1.8"/>
</g>
<g>
<text x="686.0" y="2375.5" font-size="74" textLength="402.7" lengthAdjust="spacingAndGlyphs" class="b">South West</text>
<line x1="252.0" x2="1522.0" y1="2893.5" y2="2893.5" stroke="#e5e5e5" stroke-width="1"/>
<line x1="252.0" x2="1522.0" y1="2770.5" y2="2770.5" stroke="#e5e5e5" stroke-width="1"/>
<line x1="252.0" x2="1522.0" y1="2647.5" y2="2647.5" stroke="#e5e5e5" stroke-width="1"/>
<line x1="252.0" x2="1522.0" y1="2524.5" y2="2524.5" stroke="#e5e5e5" stroke-width="1"/>
<text x="139.2" y="2917.9" font-size="64" textLength="91.8" lengthAdjust="spacingAndGlyphs">0%</text>
<text x="138.2" y="2795.0" font-size="64" textLength="92.8" lengthAdjust="spacingAndGlyphs">2%</text>
<text x="140.2" y="2672.1" font-size="64" textLength="90.8" lengthAdjust="spacingAndGlyphs">4%</text>
<text x="138.2" y="2549.2" font-size="64" textLength="92.8" lengthAdjust="spacingAndGlyphs">6%</text>
<text x="138.2" y="2426.3" font-size="64" textLength="92.8" lengthAdjust="spacingAndGlyphs">8%</text>
<text x="209.1" y="2964.8" font-size="66" textLength="113.7" lengthAdjust="spacingAndGlyphs">Sep</text>
<text x="539.6" y="2964.8" font-size="66" textLength="111.4" lengthAdjust="spacingAndGlyphs">Oct</text>
<text x="872.0" y="2964.8" font-size="66" textLength="125.5" lengthAdjust="spacingAndGlyphs">Nov</text>
<text x="1204.8" y="2964.8" font-size="66" textLength="121.2" lengthAdjust="spacingAndGlyphs">Dec</text>
<polyline points="309.6,2812.7 386.6,2797.4 463.6,2743.7 540.6,2748.3 617.6,2748.9 694.6,2747.6 771.6,2730.3 848.6,2689.3" fill="none" stroke="#b9b9b9" stroke-opacity="0.8" stroke-width="12.7" stroke-linejoin="round" stroke-linecap="butt"/>
<polyline points="1002.6,2743.5 1079.7,2723.8 1156.7,2665.3 1233.7,2621.4 1310.7,2625.7 1387.7,2638.8 1464.7,2641.5" fill="none" stroke="#b9b9b9" stroke-opacity="0.8" stroke-width="12.7" stroke-linejoin="round" stroke-linecap="butt"/>
<polyline points="309.6,2813.1 386.6,2796.8 463.6,2738.1 540.6,2742.2 617.6,2747.0 694.6,2748.1 771.6,2737.3 848.6,2702.1" fill="none" stroke="#96be1f" stroke-opacity="0.8" stroke-width="12.7" stroke-linejoin="round" stroke-linecap="butt"/>
<polyline points="1002.6,2748.1 1079.7,2727.1 1156.7,2674.2 1233.7,2631.6 1310.7,2640.1 1387.7,2626.5 1464.7,2621.3" fill="none" stroke="#96be1f" stroke-opacity="0.8" stroke-width="12.7" stroke-linejoin="round" stroke-linecap="butt"/>
<polygon points="309.6,2790.3 329.1,2824.0 290.2,2824.0" fill="#b9b9b9" fill-opacity="0.8"/>
<polygon points="386.6,2775.0 406.1,2808.7 367.2,2808.7" fill="#b9b9b9" fill-opacity="0.8"/>
<polygon points="463.6,2721.2 483.1,2754.9 444.2,2754.9" fill="#b9b9b9" fill-opacity="0.8"/>
<polygon points="540.6,2725.8 560.1,2759.5 521.2,2759.5" fill="#b9b9b9" fill-opacity="0.8"/>
<polygon points="617.6,2726.5 637.1,2760.2 598.2,2760.2" fill="#b9b9b9" fill-opacity="0.8"/>
<polygon points="694.6,2725.1 714.1,2758.8 675.2,2758.8" fill="#b9b9b9" fill-opacity="0.8"/>
<polygon points="771.6,2707.8 791.1,2741.5 752.2,2741.5" fill="#b9b9b9" fill-opacity="0.8"/>
<polygon points="848.6,2666.8 868.1,2700.5 829.2,2700.5" fill="#b9b9b9" fill-opacity="0.8"/>
<polygon points="1002.6,2721.1 1022.1,2754.8 983.2,2754.8" fill="#b9b9b9" fill-opacity="0.8"/>
<polygon points="1079.7,2701.3 1099.1,2735.0 1060.2,2735.0" fill="#b9b9b9" fill-opacity="0.8"/>
<polygon points="1156.7,2642.9 1176.1,2676.5 1137.2,2676.5" fill="#b9b9b9" fill-opacity="0.8"/>
<polygon points="1233.7,2598.9 1253.1,2632.6 1214.2,2632.6" fill="#b9b9b9" fill-opacity="0.8"/>
<polygon points="1310.7,2603.2 1330.1,2636.9 1291.2,2636.9" fill="#b9b9b9" fill-opacity="0.8"/>
<polygon points="1387.7,2616.3 1407.1,2650.0 1368.2,2650.0" fill="#b9b9b9" fill-opacity="0.8"/>
<polygon points="1464.7,2619.1 1484.1,2652.8 1445.2,2652.8" fill="#b9b9b9" fill-opacity="0.8"/>
<circle cx="309.6" cy="2813.1" r="14.4" fill="#96be1f" fill-opacity="0.8" stroke="#96be1f" stroke-opacity="0.8" stroke-width="1.8"/>
<circle cx="386.6" cy="2796.8" r="14.4" fill="#96be1f" fill-opacity="0.8" stroke="#96be1f" stroke-opacity="0.8" stroke-width="1.8"/>
<circle cx="463.6" cy="2738.1" r="14.4" fill="#96be1f" fill-opacity="0.8" stroke="#96be1f" stroke-opacity="0.8" stroke-width="1.8"/>
<circle cx="540.6" cy="2742.2" r="14.4" fill="#96be1f" fill-opacity="0.8" stroke="#96be1f" stroke-opacity="0.8" stroke-width="1.8"/>
<circle cx="617.6" cy="2747.0" r="14.4" fill="#96be1f" fill-opacity="0.8" stroke="#96be1f" stroke-opacity="0.8" stroke-width="1.8"/>
<circle cx="694.6" cy="2748.1" r="14.4" fill="#96be1f" fill-opacity="0.8" stroke="#96be1f" stroke-opacity="0.8" stroke-width="1.8"/>
<circle cx="771.6" cy="2737.3" r="14.4" fill="#96be1f" fill-opacity="0.8" stroke="#96be1f" stroke-opacity="0.8" stroke-width="1.8"/>
<circle cx="848.6" cy="2702.1" r="14.4" fill="#96be1f" fill-opacity="0.8" stroke="#96be1f" stroke-opacity="0.8" stroke-width="1.8"/>
<circle cx="1002.6" cy="2748.1" r="14.4" fill="#96be1f" fill-opacity="0.8" stroke="#96be1f" stroke-opacity="0.8" stroke-width="1.8"/>
<circle cx="1079.7" cy="2727.1" r="14.4" fill="#96be1f" fill-opacity="0.8" stroke="#96be1f" stroke-opacity="0.8" stroke-width="1.8"/>
<circle cx="1156.7" cy="2674.2" r="14.4" fill="#96be1f" fill-opacity="0.8" stroke="#96be1f" stroke-opacity="0.8" stroke-width="1.8"/>
<circle cx="1233.7" cy="2631.6" r="14.4" fill="#96be1f" fill-opacity="0.8" stroke="#96be1f" stroke-opacity="0.8" stroke-width="1.8"/>
<circle cx="1310.7" cy="2640.1" r="14.4" fill="#96be1f" fill-opacity="0.8" stroke="#96be1f" stroke-opacity="0.8" stroke-width="1.8"/>
<circle cx="1387.7" cy="2626.5" r="14.4" fill="#96be1f" fill-opacity="0.8" stroke="#96be1f" stroke-opacity="0.8" stroke-width="1.8"/>
<circle cx="1464.7" cy="2621.3" r="14.4" fill="#96be1f" fill-opacity="0.8" stroke="#96be1f" stroke-opacity="0.8" stroke-width="1.8"/>
</g>
<g>
<text x="2275.1" y="2375.5" font-size="74" textLength="369.0" lengthAdjust="spacingAndGlyphs" class="b">West Mids</text>
<line x1="1823.0" x2="3093.0" y1="2893.5" y2="2893.5" stroke="#e5e5e5" stroke-width="1"/>
<line x1="1823.0" x2="3093.0" y1="2770.5" y2="2770.5" stroke="#e5e5e5" stroke-width="1"/>
<line x1="1823.0" x2="3093.0" y1="2647.5" y2="2647.5" stroke="#e5e5e5" stroke-width="1"/>
<line x1="1823.0" x2="3093.0" y1="2524.5" y2="2524.5" stroke="#e5e5e5" stroke-width="1"/>
<text x="1779.3" y="2964.8" font-size="66" textLength="114.7" lengthAdjust="spacingAndGlyphs">Sep</text>
<text x="2109.9" y="2964.8" font-size="66" textLength="111.2" lengthAdjust="spacingAndGlyphs">Oct</text>
<text x="2443.2" y="2964.8" font-size="66" textLength="124.5" lengthAdjust="spacingAndGlyphs">Nov</text>
<text x="2775.0" y="2964.8" font-size="66" textLength="122.0" lengthAdjust="spacingAndGlyphs">Dec</text>
<polyline points="1880.5,2812.7 1957.5,2797.4 2034.5,2743.7 2111.4,2748.3 2188.4,2748.9 2265.4,2747.6 2342.4,2730.3 2419.4,2689.3" fill="none" stroke="#b9b9b9" stroke-opacity="0.8" stroke-width="12.7" stroke-linejoin="round" stroke-linecap="butt"/>
<polyline points="2573.4,2743.5 2650.4,2723.8 2727.4,2665.3 2804.4,2621.4 2881.4,2625.7 2958.4,2638.8 3035.4,2641.5" fill="none" stroke="#b9b9b9" stroke-opacity="0.8" stroke-width="12.7" stroke-linejoin="round" stroke-linecap="butt"/>
<polyline points="1880.5,2814.8 1957.5,2791.8 2034.5,2732.0 2111.4,2746.0 2188.4,2746.8 2265.4,2742.7 2342.4,2723.1 2419.4,2675.0" fill="none" stroke="#96be1f" stroke-opacity="0.8" stroke-width="12.7" stroke-linejoin="round" stroke-linecap="butt"/>
<polyline points="2573.4,2735.4 2650.4,2703.4 2727.4,2645.0 2804.4,2601.1 2881.4,2607.1 2958.4,2637.9 3035.4,2653.2" fill="none" stroke="#96be1f" stroke-opacity="0.8" stroke-width="12.7" stroke-linejoin="round" stroke-linecap="butt"/>
<polygon points="1880.5,2790.3 1899.9,2824.0 1861.0,2824.0" fill="#b9b9b9" fill-opacity="0.8"/>
<polygon points="1957.5,2775.0 1976.9,2808.7 1938.0,2808.7" fill="#b9b9b9" fill-opacity="0.8"/>
<polygon points="2034.5,2721.2 2053.9,2754.9 2015.0,2754.9" fill="#b9b9b9" fill-opacity="0.8"/>
<polygon points="2111.4,2725.8 2130.9,2759.5 2092.0,2759.5" fill="#b9b9b9" fill-opacity="0.8"/>
<polygon points="2188.4,2726.5 2207.9,2760.2 2169.0,2760.2" fill="#b9b9b9" fill-opacity="0.8"/>
<polygon points="2265.4,2725.1 2284.9,2758.8 2246.0,2758.8" fill="#b9b9b9" fill-opacity="0.8"/>
<polygon points="2342.4,2707.8 2361.9,2741.5 2323.0,2741.5" fill="#b9b9b9" fill-opacity="0.8"/>
<polygon points="2419.4,2666.8 2438.9,2700.5 2400.0,2700.5" fill="#b9b9b9" fill-opacity="0.8"/>
<polygon points="2573.4,2721.1 2592.9,2754.8 2554.0,2754.8" fill="#b9b9b9" fill-opacity="0.8"/>
<polygon points="2650.4,2701.3 2669.9,2735.0 2631.0,2735.0" fill="#b9b9b9" fill-opacity="0.8"/>
<polygon points="2727.4,2642.9 2746.9,2676.5 2708.0,2676.5" fill="#b9b9b9" fill-opacity="0.8"/>
<polygon points="2804.4,2598.9 2823.9,2632.6 2785.0,2632.6" fill="#b9b9b9" fill-opacity="0.8"/>
<polygon points="2881.4,2603.2 2900.9,2636.9 2862.0,2636.9" fill="#b9b9b9" fill-opacity="0.8"/>
<polygon points="2958.4,2616.3 2977.9,2650.0 2939.0,2650.0" fill="#b9b9b9" fill-opacity="0.8"/>
<polygon points="3035.4,2619.1 3054.9,2652.8 3016.0,2652.8" fill="#b9b9b9" fill-opacity="0.8"/>
<circle cx="1880.5" cy="2814.8" r="14.4" fill="#96be1f" fill-opacity="0.8" stroke="#96be1f" stroke-opacity="0.8" stroke-width="1.8"/>
<circle cx="1957.5" cy="2791.8" r="14.4" fill="#96be1f" fill-opacity="0.8" stroke="#96be1f" stroke-opacity="0.8" stroke-width="1.8"/>
<circle cx="2034.5" cy="2732.0" r="14.4" fill="#96be1f" fill-opacity="0.8" stroke="#96be1f" stroke-opacity="0.8" stroke-width="1.8"/>
<circle cx="2111.4" cy="2746.0" r="14.4" fill="#96be1f" fill-opacity="0.8" stroke="#96be1f" stroke-opacity="0.8" stroke-width="1.8"/>
<circle cx="2188.4" cy="2746.8" r="14.4" fill="#96be1f" fill-opacity="0.8" stroke="#96be1f" stroke-opacity="0.8" stroke-width="1.8"/>
<circle cx="2265.4" cy="2742.7" r="14.4" fill="#96be1f" fill-opacity="0.8" stroke="#96be1f" stroke-opacity="0.8" stroke-width="1.8"/>
<circle cx="2342.4" cy="2723.1" r="14.4" fill="#96be1f" fill-opacity="0.8" stroke="#96be1f" stroke-opacity="0.8" stroke-width="1.8"/>
<circle cx="2419.4" cy="2675.0" r="14.4" fill="#96be1f" fill-opacity="0.8" stroke="#96be1f" stroke-opacity="0.8" stroke-width="1.8"/>
<circle cx="2573.4" cy="2735.4" r="14.4" fill="#96be1f" fill-opacity="0.8" stroke="#96be1f" stroke-opacity="0.8" stroke-width="1.8"/>
<circle cx="2650.4" cy="2703.4" r="14.4" fill="#96be1f" fill-opacity="0.8" stroke="#96be1f" stroke-opacity="0.8" stroke-width="1.8"/>
<circle cx="2727.4" cy="2645.0" r="14.4" fill="#96be1f" fill-opacity="0.8" stroke="#96be1f" stroke-opacity="0.8" stroke-width="1.8"/>
<circle cx="2804.4" cy="2601.1" r="14.4" fill="#96be1f" fill-opacity="0.8" stroke="#96be1f" stroke-opacity="0.8" stroke-width="1.8"/>
<circle cx="2881.4" cy="2607.1" r="14.4" fill="#96be1f" fill-opacity="0.8" stroke="#96be1f" stroke-opacity="0.8" stroke-width="1.8"/>
<circle cx="2958.4" cy="2637.9" r="14.4" fill="#96be1f" fill-opacity="0.8" stroke="#96be1f" stroke-opacity="0.8" stroke-width="1.8"/>
<circle cx="3035.4" cy="2653.2" r="14.4" fill="#96be1f" fill-opacity="0.8" stroke="#96be1f" stroke-opacity="0.8" stroke-width="1.8"/>
</g>
<g>
<text x="3736.3" y="2375.5" font-size="74" textLength="580.7" lengthAdjust="spacingAndGlyphs" class="b">Yorks &amp; Humber</text>
<line x1="3393.0" x2="4664.0" y1="2893.5" y2="2893.5" stroke="#e5e5e5" stroke-width="1"/>
<line x1="3393.0" x2="4664.0" y1="2770.5" y2="2770.5" stroke="#e5e5e5" stroke-width="1"/>
<line x1="3393.0" x2="4664.0" y1="2647.5" y2="2647.5" stroke="#e5e5e5" stroke-width="1"/>
<line x1="3393.0" x2="4664.0" y1="2524.5" y2="2524.5" stroke="#e5e5e5" stroke-width="1"/>
<text x="3349.9" y="2964.8" font-size="66" textLength="113.7" lengthAdjust="spacingAndGlyphs">Sep</text>
<text x="3680.5" y="2964.8" font-size="66" textLength="111.2" lengthAdjust="spacingAndGlyphs">Oct</text>
<text x="4013.8" y="2964.8" font-size="66" textLength="124.5" lengthAdjust="spacingAndGlyphs">Nov</text>
<text x="4345.5" y="2964.8" font-size="66" textLength="122.0" lengthAdjust="spacingAndGlyphs">Dec</text>
<polyline points="3450.8,2812.7 3527.8,2797.4 3604.8,2743.7 3681.8,2748.3 3758.8,2748.9 3835.8,2747.6 3912.8,2730.3 3989.8,2689.3" fill="none" stroke="#b9b9b9" stroke-opacity="0.8" stroke-width="12.7" stroke-linejoin="round" stroke-linecap="butt"/>
<polyline points="4143.9,2743.5 4220.9,2723.8 4297.9,2665.3 4374.9,2621.4 4451.9,2625.7 4528.9,2638.8 4605.9,2641.5" fill="none" stroke="#b9b9b9" stroke-opacity="0.8" stroke-width="12.7" stroke-linejoin="round" stroke-linecap="butt"/>
<polyline points="3450.8,2827.8 3527.8,2795.6 3604.8,2743.8 3681.8,2753.6 3758.8,2753.6 3835.8,2750.9 3912.8,2734.0 3989.8,2675.9" fill="none" stroke="#96be1f" stroke-opacity="0.8" stroke-width="12.7" stroke-linejoin="round" stroke-linecap="butt"/>
<polyline points="4143.9,2734.5 4220.9,2707.2 4297.9,2626.2 4374.9,2585.2 4451.9,2622.1 4528.9,2651.3 4605.9,2669.9" fill="none" stroke="#96be1f" stroke-opacity="0.8" stroke-width="12.7" stroke-linejoin="round" stroke-linecap="butt"/>
<polygon points="3450.8,2790.3 3470.3,2824.0 3431.4,2824.0" fill="#b9b9b9" fill-opacity="0.8"/>
<polygon points="3527.8,2775.0 3547.3,2808.7 3508.4,2808.7" fill="#b9b9b9" fill-opacity="0.8"/>
<polygon points="3604.8,2721.2 3624.3,2754.9 3585.4,2754.9" fill="#b9b9b9" fill-opacity="0.8"/>
<polygon points="3681.8,2725.8 3701.3,2759.5 3662.4,2759.5" fill="#b9b9b9" fill-opacity="0.8"/>
<polygon points="3758.8,2726.5 3778.3,2760.2 3739.4,2760.2" fill="#b9b9b9" fill-opacity="0.8"/>
<polygon points="3835.8,2725.1 3855.3,2758.8 3816.4,2758.8" fill="#b9b9b9" fill-opacity="0.8"/>
<polygon points="3912.8,2707.8 3932.3,2741.5 3893.4,2741.5" fill="#b9b9b9" fill-opacity="0.8"/>
<polygon points="3989.8,2666.8 4009.3,2700.5 3970.4,2700.5" fill="#b9b9b9" fill-opacity="0.8"/>
<polygon points="4143.9,2721.1 4163.3,2754.8 4124.4,2754.8" fill="#b9b9b9" fill-opacity="0.8"/>
<polygon points="4220.9,2701.3 4240.3,2735.0 4201.4,2735.0" fill="#b9b9b9" fill-opacity="0.8"/>
<polygon points="4297.9,2642.9 4317.3,2676.5 4278.4,2676.5" fill="#b9b9b9" fill-opacity="0.8"/>
<polygon points="4374.9,2598.9 4394.3,2632.6 4355.4,2632.6" fill="#b9b9b9" fill-opacity="0.8"/>
<polygon points="4451.9,2603.2 4471.3,2636.9 4432.4,2636.9" fill="#b9b9b9" fill-opacity="0.8"/>
<polygon points="4528.9,2616.3 4548.3,2650.0 4509.4,2650.0" fill="#b9b9b9" fill-opacity="0.8"/>
<polygon points="4605.9,2619.1 4625.3,2652.8 4586.4,2652.8" fill="#b9b9b9" fill-opacity="0.8"/>
<circle cx="3450.8" cy="2827.8" r="14.4" fill="#96be1f" fill-opacity="0.8" stroke="#96be1f" stroke-opacity="0.8" stroke-width="1.8"/>
<circle cx="3527.8" cy="2795.6" r="14.4" fill="#96be1f" fill-opacity="0.8" stroke="#96be1f" stroke-opacity="0.8" stroke-width="1.8"/>
<circle cx="3604.8" cy="2743.8" r="14.4" fill="#96be1f" fill-opacity="0.8" stroke="#96be1f" stroke-opacity="0.8" stroke-width="1.8"/>
<circle cx="3681.8" cy="2753.6" r="14.4" fill="#96be1f" fill-opacity="0.8" stroke="#96be1f" stroke-opacity="0.8" stroke-width="1.8"/>
<circle cx="3758.8" cy="2753.6" r="14.4" fill="#96be1f" fill-opacity="0.8" stroke="#96be1f" stroke-opacity="0.8" stroke-width="1.8"/>
<circle cx="3835.8" cy="2750.9" r="14.4" fill="#96be1f" fill-opacity="0.8" stroke="#96be1f" stroke-opacity="0.8" stroke-width="1.8"/>
<circle cx="3912.8" cy="2734.0" r="14.4" fill="#96be1f" fill-opacity="0.8" stroke="#96be1f" stroke-opacity="0.8" stroke-width="1.8"/>
<circle cx="3989.8" cy="2675.9" r="14.4" fill="#96be1f" fill-opacity="0.8" stroke="#96be1f" stroke-opacity="0.8" stroke-width="1.8"/>
<circle cx="4143.9" cy="2734.5" r="14.4" fill="#96be1f" fill-opacity="0.8" stroke="#96be1f" stroke-opacity="0.8" stroke-width="1.8"/>
<circle cx="4220.9" cy="2707.2" r="14.4" fill="#96be1f" fill-opacity="0.8" stroke="#96be1f" stroke-opacity="0.8" stroke-width="1.8"/>
<circle cx="4297.9" cy="2626.2" r="14.4" fill="#96be1f" fill-opacity="0.8" stroke="#96be1f" stroke-opacity="0.8" stroke-width="1.8"/>
<circle cx="4374.9" cy="2585.2" r="14.4" fill="#96be1f" fill-opacity="0.8" stroke="#96be1f" stroke-opacity="0.8" stroke-width="1.8"/>
<circle cx="4451.9" cy="2622.1" r="14.4" fill="#96be1f" fill-opacity="0.8" stroke="#96be1f" stroke-opacity="0.8" stroke-width="1.8"/>
<circle cx="4528.9" cy="2651.3" r="14.4" fill="#96be1f" fill-opacity="0.8" stroke="#96be1f" stroke-opacity="0.8" stroke-width="1.8"/>
<circle cx="4605.9" cy="2669.9" r="14.4" fill="#96be1f" fill-opacity="0.8" stroke="#96be1f" stroke-opacity="0.8" stroke-width="1.8"/>
</g>
</svg></body></html>
